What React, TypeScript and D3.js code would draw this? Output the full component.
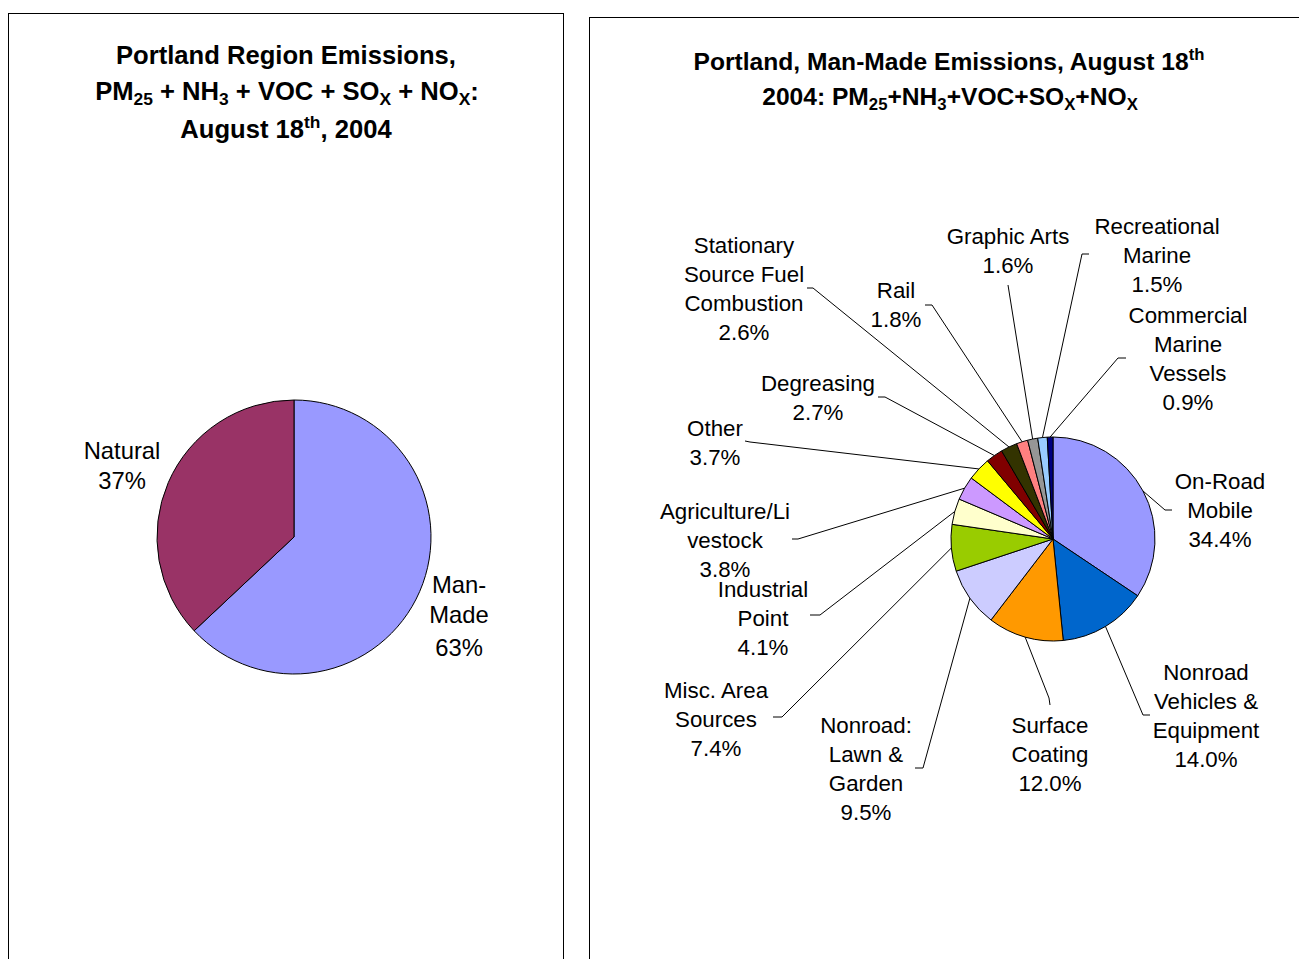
import React from "react";
import * as d3 from "d3";

// left pie: region totals
const regionCategories = ["Man-Made", "Natural"];
const regionValues = [63, 37];
const regionColors = ["#9999FF", "#993366"];

// right pie: man-made breakdown, clockwise from 12 o'clock
const sourceCategories = [
  "On-Road Mobile",
  "Nonroad Vehicles & Equipment",
  "Surface Coating",
  "Nonroad: Lawn & Garden",
  "Misc. Area Sources",
  "Industrial Point",
  "Agriculture/Livestock",
  "Other",
  "Degreasing",
  "Stationary Source Fuel Combustion",
  "Rail",
  "Graphic Arts",
  "Recreational Marine",
  "Commercial Marine Vessels",
];
const sourceValues = [34.4, 14.0, 12.0, 9.5, 7.4, 4.1, 3.8, 3.7, 2.7, 2.6, 1.8, 1.6, 1.5, 0.9];
const sourceColors = [
  "#9999FF", "#0066CC", "#FF9900", "#CCCCFF", "#99CC00", "#FFFFCC", "#CC99FF",
  "#FFFF00", "#800000", "#333300", "#FF8080", "#969696", "#99CCFF", "#000080",
];
const sourceLabelLines = [
  ["On-Road", "Mobile"],
  ["Nonroad", "Vehicles &", "Equipment"],
  ["Surface", "Coating"],
  ["Nonroad:", "Lawn &", "Garden"],
  ["Misc. Area", "Sources"],
  ["Industrial", "Point"],
  ["Agriculture/Li", "vestock"],
  ["Other"],
  ["Degreasing"],
  ["Stationary", "Source Fuel", "Combustion"],
  ["Rail"],
  ["Graphic Arts"],
  ["Recreational", "Marine"],
  ["Commercial", "Marine", "Vessels"],
];

// label placement: text centre x, first line y, elbow, end of leader
const sourceLabelLayout = [
  { x: 1220, y: 481, elbow: [1165, 510], end: [1172, 510] },
  { x: 1206, y: 672, elbow: [1143, 715], end: [1150, 715] },
  { x: 1050, y: 725, elbow: [1049, 698], end: [1050, 705] },
  { x: 866, y: 725, elbow: [923, 768], end: [915, 768] },
  { x: 716, y: 690, elbow: [782, 717], end: [773, 717] },
  { x: 763, y: 589, elbow: [820, 615], end: [810, 615] },
  { x: 725, y: 511, elbow: [798, 539], end: [792, 539] },
  { x: 715, y: 428, elbow: [750, 442], end: [745, 441] },
  { x: 818, y: 383, elbow: [885, 397], end: [878, 397] },
  { x: 744, y: 245, elbow: [813, 288], end: [807, 288] },
  { x: 896, y: 290, elbow: [932, 305], end: [925, 305] },
  { x: 1008, y: 236, elbow: [1008, 285], end: [1008, 285] },
  { x: 1157, y: 226, elbow: [1082, 254], end: [1089, 254] },
  { x: 1188, y: 315, elbow: [1118, 358], end: [1126, 358] },
];

const font = "'Liberation Sans', Arial, sans-serif";
const lineGap = 29;

const fmtPct = (v: number) => v.toFixed(1) + "%";

function PieLeft() {
  const cx = 294, cy = 537, r = 137;
  const arcs = d3.pie<number>().sort(null)(regionValues);
  const arc = d3.arc<d3.PieArcDatum<number>>().innerRadius(0).outerRadius(r);
  const labels = [
    { x: 459, ys: [585, 615, 648], lines: ["Man-", "Made", regionValues[0] + "%"] },
    { x: 122, ys: [451, 481], lines: ["Natural", regionValues[1] + "%"] },
  ];
  return (
    <g>
      <g transform={`translate(${cx},${cy})`}>
        {arcs.map((a, i) => (
          <path key={regionCategories[i]} d={arc(a) || ""} fill={regionColors[i]} stroke="#000" strokeWidth={1} />
        ))}
      </g>
      {labels.map((l, i) => (
        <text key={i} textAnchor="middle" fontFamily={font} fontSize={23.8} fill="#000">
          {l.lines.map((t, j) => (
            <tspan key={j} x={l.x} y={l.ys[j]} dy="0.35em">{t}</tspan>
          ))}
        </text>
      ))}
    </g>
  );
}

function PieRight() {
  const cx = 1053, cy = 539, r = 102;
  const arcs = d3.pie<number>().sort(null)(sourceValues);
  const arc = d3.arc<d3.PieArcDatum<number>>().innerRadius(0).outerRadius(r);
  return (
    <g>
      <g transform={`translate(${cx},${cy})`}>
        {arcs.map((a, i) => (
          <path key={sourceCategories[i]} d={arc(a) || ""} fill={sourceColors[i]} stroke="#000" strokeWidth={1} />
        ))}
      </g>
      {arcs.map((a, i) => {
        const mid = (a.startAngle + a.endAngle) / 2;
        const sx = cx + r * Math.sin(mid);
        const sy = cy - r * Math.cos(mid);
        const lay = sourceLabelLayout[i];
        return (
          <polyline
            key={i}
            points={`${sx},${sy} ${lay.elbow[0]},${lay.elbow[1]} ${lay.end[0]},${lay.end[1]}`}
            fill="none"
            stroke="#000"
            strokeWidth={1}
          />
        );
      })}
      {sourceLabelLayout.map((lay, i) => {
        const lines = [...sourceLabelLines[i], fmtPct(sourceValues[i])];
        return (
          <text key={i} textAnchor="middle" fontFamily={font} fontSize={22.3} fill="#000">
            {lines.map((t, j) => (
              <tspan key={j} x={lay.x} y={lay.y + j * lineGap} dy="0.35em">{t}</tspan>
            ))}
          </text>
        );
      })}
    </g>
  );
}

const sub = { fontSize: "0.68em" };

export default function App() {
  return (
    <svg width={1299} height={959} style={{ position: "absolute", left: 0, top: 0, background: "#fff" }}>
      <rect x={0} y={0} width={1299} height={959} fill="#fff" />
      <rect x={8.5} y={13.5} width={555} height={1000} fill="none" stroke="#000" strokeWidth={1} />
      <rect x={589.5} y={17.5} width={800} height={1000} fill="none" stroke="#000" strokeWidth={1} />

      <g fontFamily={font} fontWeight="bold" fontSize={25.6} textAnchor="middle" fill="#000">
        <text x={286} y={55} dy="0.35em">Portland Region Emissions,</text>
        <text x={287} y={91} dy="0.35em">
          PM<tspan dy="5" style={sub}>25</tspan>
          <tspan dy="-5"> + NH</tspan><tspan dy="5" style={sub}>3</tspan>
          <tspan dy="-5"> + VOC + SO</tspan><tspan dy="5" style={sub}>X</tspan>
          <tspan dy="-5"> + NO</tspan><tspan dy="5" style={sub}>X</tspan>
          <tspan dy="-5">:</tspan>
        </text>
        <text x={286} y={129} dy="0.35em">
          August 18<tspan dy="-10" style={sub}>th</tspan><tspan dy="10">, 2004</tspan>
        </text>
      </g>
      <g fontFamily={font} fontWeight="bold" fontSize={24.6} textAnchor="middle" fill="#000">
        <text x={949} y={61} dy="0.35em">
          Portland, Man-Made Emissions, August 18<tspan dy="-10" style={sub}>th</tspan>
        </text>
        <text x={950} y={96} dy="0.35em">
          2004: PM<tspan dy="5" style={sub}>25</tspan>
          <tspan dy="-5">+NH</tspan><tspan dy="5" style={sub}>3</tspan>
          <tspan dy="-5">+VOC+SO</tspan><tspan dy="5" style={sub}>X</tspan>
          <tspan dy="-5">+NO</tspan><tspan dy="5" style={sub}>X</tspan>
        </text>
      </g>

      <PieLeft />
      <PieRight />
    </svg>
  );
}
